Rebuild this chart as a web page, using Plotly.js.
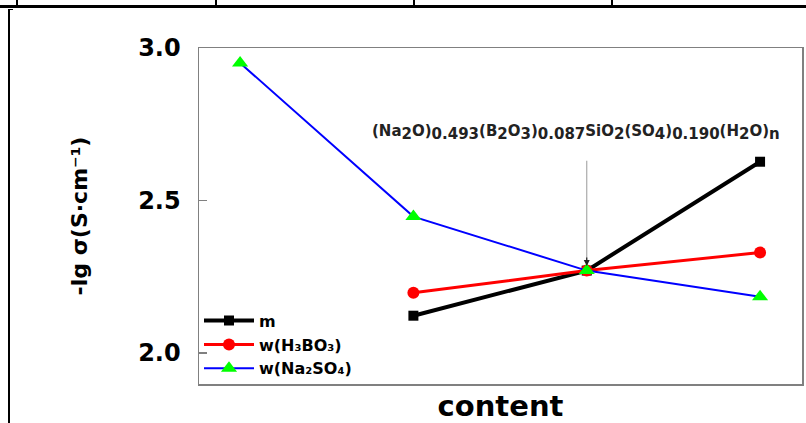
<!DOCTYPE html>
<html>
<head>
<meta charset="utf-8">
<script src="https://cdn.plot.ly/plotly-3.0.1.min.js"></script>
<style>
  html, body { margin: 0; padding: 0; background: #fff; }
  #chart { width: 806px; height: 423px; position: relative; }
  .rule { position: absolute; background: #000; pointer-events: none; }
</style>
</head>
<body>
<div id="chart"></div>
<div class="rule" style="left:0;top:5px;width:806px;height:3px;"></div>
<div class="rule" style="left:16px;top:0;width:2px;height:5px;"></div>
<div class="rule" style="left:215px;top:0;width:2px;height:5px;"></div>
<div class="rule" style="left:413px;top:0;width:2px;height:5px;"></div>
<div class="rule" style="left:611px;top:0;width:2px;height:5px;"></div>
<div class="rule" style="left:8px;top:9px;width:2px;height:414px;"></div>
<div class="rule" style="left:8px;top:9px;width:5px;height:1px;"></div>
<script>
// positions along the "content" axis
const xM = [2, 3, 4];
const yM = [2.122, 2.270, 2.627];
const xH3BO3 = [2, 3, 4];
const yH3BO3 = [2.197, 2.270, 2.329];
const xNa2SO4 = [1, 2, 3, 4];
const yNa2SO4 = [2.951, 2.447, 2.270, 2.184];
const seriesNames = ['m', 'w(H₃BO₃)', 'w(Na₂SO₄)'];
const yTicks = [2.0, 2.5, 3.0];
const yTickText = ['2.0', '2.5', '3.0'];
const compositionX = 3;
const compositionY = 2.270;
const compositionParts = [
  ['(Na', '2'], ['O)', '0.493'], ['(B', '2'], ['O', '3'], [')', '0.087'],
  ['SiO', '2'], ['(SO', '4'], [')', '0.190'], ['(H', '2'], ['O)', 'n']
];

const FONT = 'DejaVu Sans, Arial, sans-serif';

const traces = [
  {
    x: xM, y: yM, name: seriesNames[0], type: 'scatter', mode: 'lines+markers',
    line: { color: '#000000', width: 4 },
    marker: { symbol: 'square', size: 10, color: '#000000' }
  },
  {
    x: xH3BO3, y: yH3BO3, name: seriesNames[1], type: 'scatter', mode: 'lines+markers',
    line: { color: '#ff0000', width: 3 },
    marker: { symbol: 'circle', size: 12, color: '#ff0000' }
  },
  {
    x: xNa2SO4, y: yNa2SO4, name: seriesNames[2], type: 'scatter', mode: 'lines+markers',
    line: { color: '#0000ff', width: 2 },
    marker: { symbol: 'triangle-up', size: 14, color: '#00ff00' }
  }
];

const formula = compositionParts
  .map(p => p[0] + '<sub><span style="font-size:15px">' + p[1] + '</span></sub>')
  .join('');

const layout = {
  width: 806, height: 423,
  margin: { l: 199, r: 4, t: 48, b: 39, pad: 0 },
  paper_bgcolor: 'rgba(0,0,0,0)',
  plot_bgcolor: '#ffffff',
  showlegend: true,
  legend: {
    x: 0, y: 0.239, xanchor: 'left', yanchor: 'top',
    bgcolor: 'rgba(0,0,0,0)', borderwidth: 0,
    font: { family: FONT, size: 16, color: '#000', weight: 'bold' },
    itemwidth: 50, tracegroupgap: 0
  },
  xaxis: {
    range: [0.763, 4.242],
    showticklabels: false, ticks: '', showgrid: false, zeroline: false,
    showline: true, linecolor: '#808080', linewidth: 1.5, mirror: true,
    title: { text: 'content', font: { family: FONT, size: 29, color: '#000', weight: 'bold' }, standoff: 12 }
  },
  yaxis: {
    range: [1.898, 3.0],
    tickvals: yTicks, ticktext: yTickText,
    ticks: 'inside', ticklen: 8, tickwidth: 1.5, tickcolor: '#808080',
    ticklabelstandoff: 12,
    tickfont: { family: FONT, size: 24, color: '#000', weight: 'bold' },
    showgrid: false, zeroline: false,
    showline: true, linecolor: '#808080', linewidth: 1.5, mirror: true,
    title: { text: '-lg σ(S·cm⁻¹)', font: { family: FONT, size: 22, color: '#000', weight: 'bold' }, standoff: 44 }
  },
  shapes: [
    {
      type: 'line', xref: 'x', yref: 'y',
      x0: compositionX, x1: compositionX, y0: 2.63, y1: compositionY + 0.03,
      line: { color: '#aaaaaa', width: 1.2 }
    }
  ],
  annotations: [
    {
      x: 2.94, y: 2.722, xref: 'x', yref: 'y',
      text: formula, showarrow: false,
      font: { family: FONT, size: 15, color: '#222', weight: 'bold' },
      xanchor: 'center', yanchor: 'middle'
    },
    {
      x: compositionX, y: compositionY + 0.015, xref: 'x', yref: 'y',
      ax: 0, ay: -10,
      text: '', showarrow: true,
      arrowcolor: '#222', arrowwidth: 1.2, arrowhead: 2, arrowsize: 1, standoff: 0
    }
  ]
};

Plotly.newPlot('chart', traces, layout, { displayModeBar: false, staticPlot: true });
</script>
</body>
</html>
